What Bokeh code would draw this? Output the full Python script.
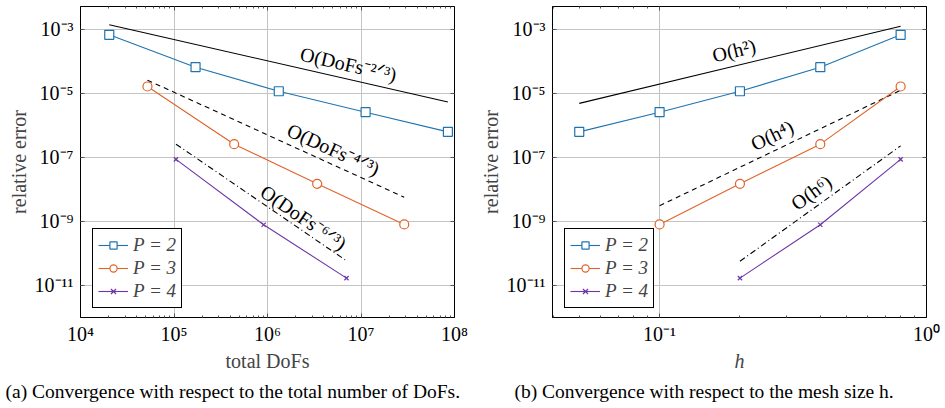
from bokeh.plotting import figure
from bokeh.models import (LogAxis, FixedTicker, Label, Title, Legend, LegendItem,
                          Range1d, CustomJSTickFormatter)
from bokeh.layouts import row
from bokeh.embed import file_html
from bokeh.resources import INLINE

FONT = "Liberation Serif"

# ---------------- data ----------------
dofs_p2 = [2.03e4, 1.7e5, 1.32e6, 1.12e7, 8.5e7]
dofs_p3 = [5.2e4, 4.4e5, 3.4e6, 2.9e7]
dofs_p4 = [1.05e5, 9.1e5, 7.0e6]

h_p2 = [0.8, 0.4, 0.2, 0.1, 0.05]
h_p3 = [0.8, 0.4, 0.2, 0.1]
h_p4 = [0.8, 0.4, 0.2]

err_p2 = [6.8e-4, 6.6e-5, 1.17e-5, 2.6e-6, 6.3e-7]
err_p3 = [1.65e-5, 2.6e-7, 1.5e-8, 8.1e-10]
err_p4 = [8.7e-8, 7.9e-10, 1.7e-11]

# reference slopes (left: vs DoFs)
ref_dofs_a = [2.03e4, 8.5e7]
ref_err_a = [1.4e-3, 5.4e-6]
ref_dofs_b = [5.2e4, 2.9e7]
ref_err_b = [2.6e-5, 5.7e-9]
ref_dofs_c = [1.05e5, 7.0e6]
ref_err_c = [2.6e-7, 5.9e-11]

# reference slopes (right: vs h)
ref_h_a = [0.05, 0.8]
ref_e_a = [4.9e-6, 1.26e-3]
ref_h_b = [0.1, 0.8]
ref_e_b = [3.1e-9, 1.26e-5]
ref_h_c = [0.2, 0.8]
ref_e_c = [5.7e-11, 2.3e-7]

series_labels = ["P = 2", "P = 3", "P = 4"]
left_ref_labels = ["O(DoFs⁻²ᐟ³)", "O(DoFs⁻⁴ᐟ³)", "O(DoFs⁻⁶ᐟ³)"]
right_ref_labels = ["O(h²)", "O(h⁴)", "O(h⁶)"]

# ticks
dofs_ticks = [1e4, 1e5, 1e6, 1e7, 1e8]
dofs_tick_labels = ["10⁴", "10⁵", "10⁶", "10⁷", "10⁸"]
h_ticks = [0.1, 1.0]
h_tick_labels = ["10⁻¹", "10⁰"]
err_ticks = [1e-11, 1e-9, 1e-7, 1e-5, 1e-3]
err_tick_labels = ["10⁻¹¹", "10⁻⁹", "10⁻⁷", "10⁻⁵", "10⁻³"]

captions = ["(a) Convergence with respect to the total number of DoFs.",
            "(b) Convergence with respect to the mesh size h."]

# ---------------- style ----------------
COLORS = ["#1f74b0", "#e0642a", "#7134a8"]
MARKERS = ["square", "circle", "x"]
MSIZE = [9, 9, 6]
DASHES = ["solid", "5 4", "6 3 1 3"]

left_label_pos = [(7.35e6, 8.1e-5), (5.08e6, 1.78e-7), (2.43e6, 1.33e-9)]
left_label_ang = [-12.8, -24.5, -34.4]
right_label_pos = [(0.19, 2.2e-4), (0.264, 4.9e-7), (0.37, 8.1e-9)]
right_label_ang = [13.5, 25.7, 35.8]


def minor_for(lo_exp, hi_exp):
    out = []
    for e in range(lo_exp, hi_exp):
        for m in range(2, 10):
            out.append(m * 10.0 ** e)
    return out


def formatter(tvals, tlabels):
    return CustomJSTickFormatter(args=dict(tv=tvals, tl=tlabels), code="""
        let best = -1, bd = 1e9;
        for (let i = 0; i < tv.length; i++) {
            const d = Math.abs(Math.log10(tick) - Math.log10(tv[i]));
            if (d < bd) { bd = d; best = i; }
        }
        return bd < 1e-6 ? tl[best] : "";
    """)


def make_fig(width, right_border, xr, xticks, xlabels, xminor, xlabel, caption, cap_offset, x_italic):
    p = figure(width=width, height=408, x_axis_type="log", y_axis_type="log",
               x_range=Range1d(*xr), y_range=Range1d(1e-12, 5.2e-3),
               output_backend="svg", toolbar_location=None,
               min_border_left=80, min_border_right=right_border,
               min_border_top=6, min_border_bottom=91,
               background_fill_color="white", border_fill_color="white")
    p.outline_line_color = "black"
    p.outline_line_width = 1

    xt = FixedTicker(ticks=xticks, minor_ticks=xminor)
    yt = FixedTicker(ticks=err_ticks, minor_ticks=[])

    for ax in p.xaxis:
        ax.ticker = xt
        ax.formatter = formatter(xticks, xlabels)
        ax.axis_label = xlabel
        ax.axis_label_text_font = FONT
        ax.axis_label_text_font_size = "20px"
        ax.axis_label_text_font_style = "italic" if x_italic else "normal"
        ax.axis_label_standoff = 2
        ax.major_label_standoff = 5
    for ax in p.yaxis:
        ax.ticker = yt
        ax.formatter = formatter(err_ticks, err_tick_labels)
        ax.axis_label = "relative error"
        ax.axis_label_text_font = FONT
        ax.axis_label_text_font_size = "20px"
        ax.axis_label_text_font_style = "normal"
        ax.axis_label_standoff = 2
        ax.major_label_standoff = 7
    for ax in p.xaxis + p.yaxis:
        ax.major_label_text_font = FONT
        ax.major_label_text_font_size = "20px"
        ax.major_label_text_color = "black"
        ax.axis_line_color = "black"
        ax.major_tick_in = 4
        ax.major_tick_out = 0
        ax.minor_tick_in = 2
        ax.minor_tick_out = 0
        ax.major_tick_line_color = "#555555"
        ax.minor_tick_line_color = "#555555"

    # mirrored ticks on top and right
    top = LogAxis(ticker=xt, major_label_text_font_size="0px", major_label_standoff=0,
                  major_tick_in=4, major_tick_out=0, minor_tick_in=2, minor_tick_out=0,
                  major_tick_line_color="#555555", minor_tick_line_color="#555555",
                  axis_line_color="black", formatter=CustomJSTickFormatter(code="return ''"))
    right = LogAxis(ticker=yt, major_label_text_font_size="0px", major_label_standoff=0,
                    major_tick_in=4, major_tick_out=0, minor_tick_in=0, minor_tick_out=0,
                    major_tick_line_color="#555555",
                    axis_line_color="black", formatter=CustomJSTickFormatter(code="return ''"))
    p.add_layout(top, "above")
    p.add_layout(right, "right")

    p.xgrid.ticker = xt
    p.ygrid.ticker = yt
    p.xgrid.grid_line_color = "#c4c4c4"
    p.ygrid.grid_line_color = "#c4c4c4"
    p.xgrid.grid_line_width = 1
    p.ygrid.grid_line_width = 1

    cap = Title(text=caption, align="left", offset=cap_offset, text_font=FONT,
                text_font_size="19.5px", text_font_style="normal", text_color="black",
                standoff=9)
    p.add_layout(cap, "below")
    return p


def add_series(p, xs_list, ref_x, ref_y, label_pos, label_ang, label_txt):
    for rx, ry, dash in zip(ref_x, ref_y, DASHES):
        p.line(rx, ry, line_color="black", line_width=1.1, line_dash=dash)
    items = []
    for xs, ys, c, m, s, lab in zip(xs_list, [err_p2, err_p3, err_p4], COLORS, MARKERS, MSIZE,
                                    series_labels):
        l = p.line(xs, ys, line_color=c, line_width=1.1)
        sc = p.scatter(xs, ys, marker=m, size=s, line_color=c, fill_color="white",
                       line_width=1.2)
        items.append(LegendItem(label=lab, renderers=[l, sc]))
    for (x, y), a, t in zip(label_pos, label_ang, label_txt):
        p.add_layout(Label(x=x, y=y, text=t, angle=a, angle_units="deg",
                           text_align="center", text_baseline="middle",
                           text_font=FONT, text_font_size="20px", text_color="black"))
    leg = Legend(items=items, location=(12, 9), orientation="vertical",
                 border_line_color="black", border_line_width=1, border_line_alpha=1,
                 background_fill_color="white", background_fill_alpha=1,
                 label_text_font=FONT, label_text_font_size="19px",
                 label_text_font_style="italic", glyph_width=30, glyph_height=18,
                 label_height=18, spacing=1, padding=5, margin=0, label_standoff=5)
    p.add_layout(leg)


p1 = make_fig(472, 18, (1e4, 1e8), dofs_ticks, dofs_tick_labels, minor_for(4, 8),
              "total DoFs", captions[0], -75, False)
add_series(p1, [dofs_p2, dofs_p3, dofs_p4],
           [ref_dofs_a, ref_dofs_b, ref_dofs_c], [ref_err_a, ref_err_b, ref_err_c],
           left_label_pos, left_label_ang, left_ref_labels)

p2 = make_fig(473, 19, (0.0397, 1.0), h_ticks, h_tick_labels, minor_for(-2, 0),
              "h", captions[1], -38, True)
add_series(p2, [h_p2, h_p3, h_p4],
           [ref_h_a, ref_h_b, ref_h_c], [ref_e_a, ref_e_b, ref_e_c],
           right_label_pos, right_label_ang, right_ref_labels)

layout = row(p1, p2)
open("out.html", "w").write(file_html(layout, INLINE))
